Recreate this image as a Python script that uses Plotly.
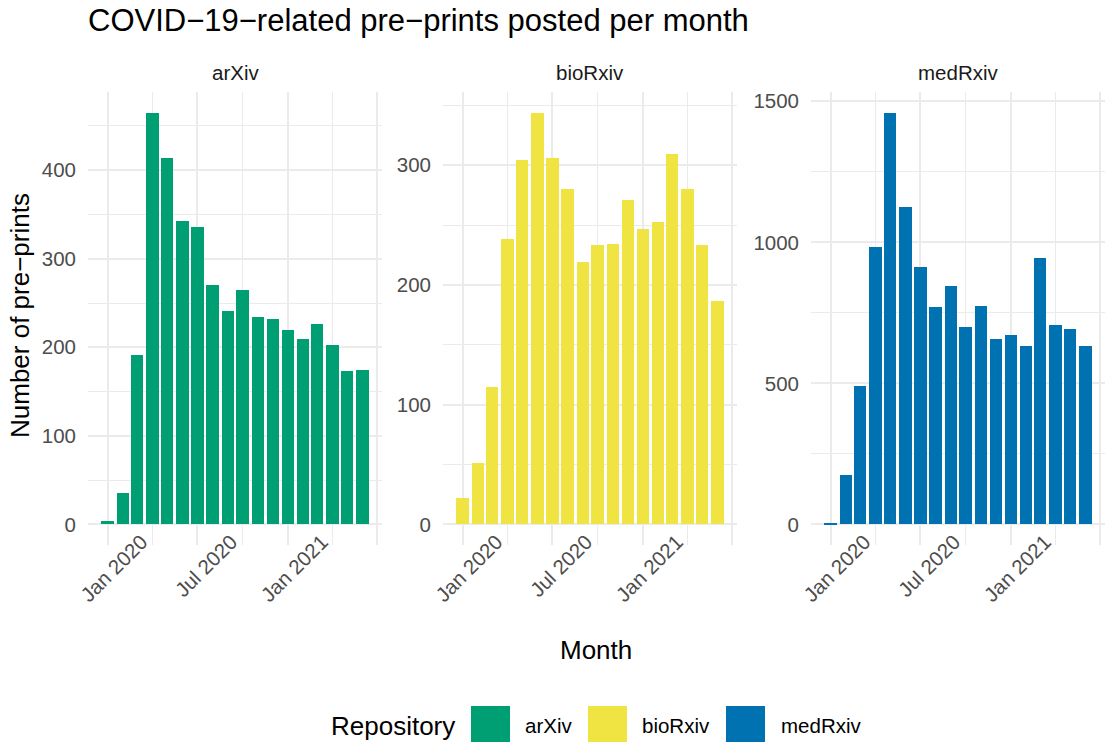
import pandas as pd
import plotly.graph_objects as go

# ---- data ----
months = pd.date_range("2020-01-01", "2021-06-01", freq="MS")
repos = ["arXiv", "bioRxiv", "medRxiv"]
arxiv = [4, 36, 191, 465, 414, 343, 336, 270, 241, 265, 234, 232, 220, 209, 226, 203, 173, 174]
biorxiv = [22, 51, 115, 238, 304, 344, 306, 280, 219, 233, 234, 271, 247, 253, 309, 280, 233, 187]
medrxiv = [2, 175, 490, 985, 1460, 1124, 911, 770, 847, 699, 773, 656, 670, 631, 946, 706, 692, 631]
colors = ["#009E73", "#F0E442", "#0072B2"]
major_ticks = ["2020-01-01", "2020-07-01", "2021-01-01", "2021-07-01"]
major_labels = ["Jan 2020", "Jul 2020", "Jan 2021", ""]
minor_ticks = ["2020-04-01", "2020-10-01", "2021-04-01"]
y_dticks = [100, 100, 500]

series = [arxiv, biorxiv, medrxiv]

W, H = 1105, 742
L, R, T, B = 88, 0, 92, 197
PW = W - L - R
PH = H - T - B
panels_px = [(88, 382), (443, 737), (811, 1105)]

def px_x(px):
    return (px - L) / PW

def px_y(py):
    return (H - B - py) / PH

FONT = "Liberation Sans, Arial, sans-serif"
GRID = "#EBEBEB"
TXT = "#4D4D4D"

# bar width: 0.9 of the smallest month gap (ggplot resolution)
gaps = months.to_series().diff().dropna()
bar_w = 0.9 * gaps.min().total_seconds() * 1000
half = pd.Timedelta(milliseconds=bar_w / 2)
span = (months[-1] + half) - (months[0] - half)
x_range = [months[0] - half - 0.05 * span, months[-1] + half + 0.05 * span]

fig = go.Figure()
for i, (name, vals, col) in enumerate(zip(repos, series, colors)):
    ax = "" if i == 0 else str(i + 1)
    fig.add_trace(go.Bar(
        x=months, y=vals, name=name, marker=dict(color=col, line=dict(width=0)),
        width=bar_w, xaxis="x" + ax, yaxis="y" + ax, showlegend=False,
    ))
    x0, x1 = panels_px[i]
    ymax = max(vals)
    fig.layout["xaxis" + ax] = dict(
        domain=[px_x(x0), px_x(x1)], type="date", range=x_range, anchor="y" + ax,
        tickmode="array", tickvals=major_ticks, ticktext=major_labels,
        tickangle=-45, tickfont=dict(size=20.5, color=TXT, family=FONT),
        ticklabelshift=34, ticklabelstandoff=-20,
        showgrid=True, gridcolor=GRID, gridwidth=2, zeroline=False,
        showline=False, ticks="",
        minor=dict(tickmode="array", tickvals=minor_ticks, showgrid=True,
                   gridcolor=GRID, gridwidth=1.1),
    )
    fig.layout["yaxis" + ax] = dict(
        domain=[0, 1], range=[-0.05 * ymax, 1.05 * ymax], anchor="x" + ax,
        dtick=y_dticks[i], tick0=0, tickfont=dict(size=20.5, color=TXT, family=FONT),
        showgrid=True, gridcolor=GRID, gridwidth=2, zeroline=False,
        showline=False, ticks="", ticklabelstandoff=11,
        minor=dict(dtick=y_dticks[i] / 2, tick0=0, showgrid=True,
                   gridcolor=GRID, gridwidth=1.1),
    )
    # facet strip label
    fig.add_annotation(
        text=name, xref="paper", yref="paper", x=px_x((x0 + x1) / 2), y=px_y(72),
        xanchor="center", yanchor="middle", showarrow=False,
        font=dict(size=20.5, color="#1A1A1A", family=FONT),
    )

# title
fig.add_annotation(
    text="COVID\u221219\u2212related pre\u2212prints posted per month",
    xref="paper", yref="paper", x=px_x(86), y=px_y(20), xanchor="left", yanchor="middle",
    showarrow=False, font=dict(size=31, color="black", family=FONT),
)
# axis titles
fig.add_annotation(
    text="Number of pre\u2212prints", xref="paper", yref="paper",
    x=px_x(20), y=px_y(316), textangle=-90, xanchor="center", yanchor="middle",
    showarrow=False, font=dict(size=26, color="black", family=FONT),
)
fig.add_annotation(
    text="Month", xref="paper", yref="paper", x=px_x(596), y=px_y(650),
    xanchor="center", yanchor="middle", showarrow=False,
    font=dict(size=26, color="black", family=FONT),
)

# legend (drawn manually to match the large ggplot keys)
fig.add_annotation(
    text="Repository", xref="paper", yref="paper", x=px_x(329), y=px_y(726),
    xanchor="left", yanchor="middle", showarrow=False,
    font=dict(size=26, color="black", family=FONT),
)
key_x = [471, 588, 726]
lab_x = [523, 640, 779]
for name, col, kx, lx in zip(repos, colors, key_x, lab_x):
    fig.add_shape(type="rect", xref="paper", yref="paper",
                  x0=px_x(kx), x1=px_x(kx + 39), y0=px_y(742), y1=px_y(706),
                  fillcolor=col, line=dict(width=0))
    fig.add_annotation(
        text=name, xref="paper", yref="paper", x=px_x(lx), y=px_y(725),
        xanchor="left", yanchor="middle", showarrow=False,
        font=dict(size=20.5, color="black", family=FONT),
    )

fig.update_layout(
    width=W, height=H, margin=dict(l=L, r=R, t=T, b=B, autoexpand=False),
    paper_bgcolor="white", plot_bgcolor="white", bargap=0,
    font=dict(family=FONT),
)

fig.write_html("out.html", config={"displayModeBar": False},
               post_script="document.body.style.margin='0';")
